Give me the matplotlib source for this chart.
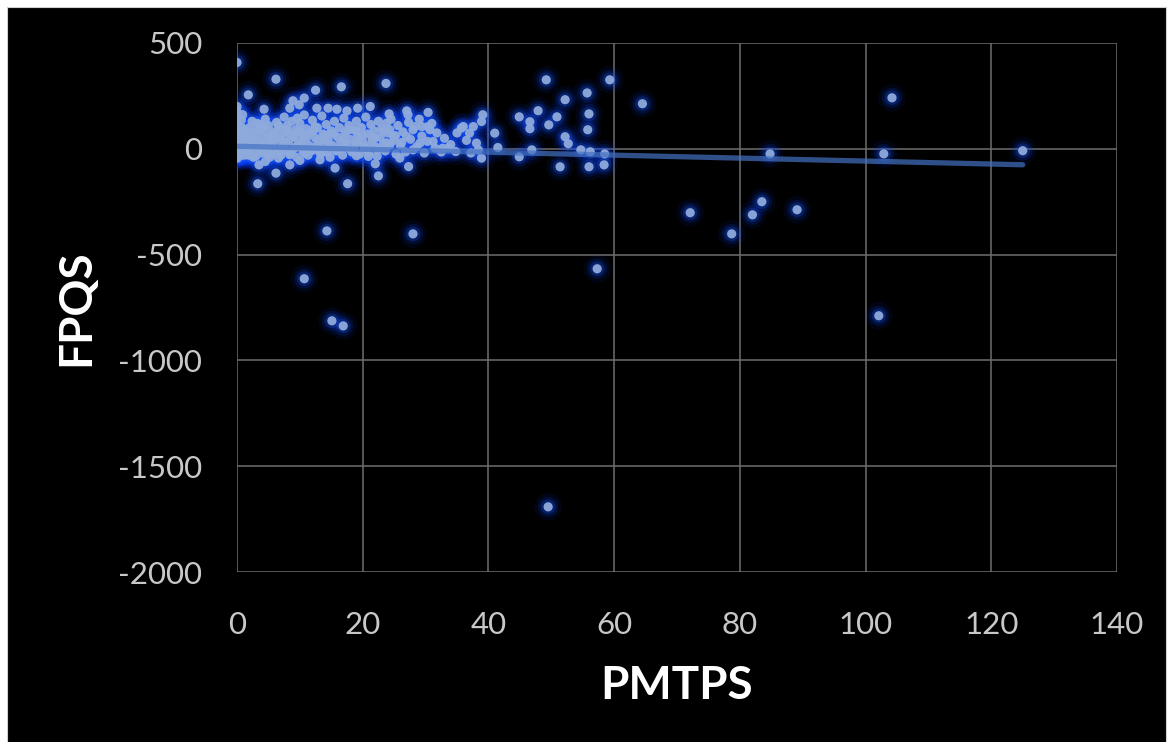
import numpy as np
import matplotlib
matplotlib.use("Agg")
import matplotlib.pyplot as plt
from matplotlib.patches import Rectangle

# ---------------- data ----------------
PMTPS = [
    # x ~ 0 column
    0, 0, 0, 0, 0, 0, 0, 0, 0, 0,
    0, 0, 0, 0, 0, 0, 0, 0.2, 0.2, 0.2,
    0.4, 0.4, 0.4, 0.7, 0.7, 0.7, 0.9, 0.9, 1.2, 1.2,
    0, 0, 0, 0, 0, 0, 0.1, 0.1, 0.1, 0.3,
    0.3, 0.3, 0.5, 0.5, 0.6, 0.6, 0.8, 1.0, 1.1, 1.4,
    # upper edge of cluster
    1.8, 6.2, 12.5, 16.6, 23.7, 8.9, 10.7, 9.9, 8.4, 4.3,
    12.7, 14.5, 15.9, 17.5, 19.2, 21.2, 24.2, 27.0, 27.2, 30.4,
    30.4, 30.7, 28.3, 29.4, 27.0, 23.8, 24.3, 24.9, 36.0, 35.7,
    37.0, 37.6, 39.1, 38.9, 41.0, 41.5, 38.1, 38.4, 38.9, 34.8,
    33.6, 28.0, 29.1, 31.2, 31.5, 32.7,
    # lower edge of cluster
    3.5, 6.2, 3.3, 8.4, 15.6, 17.6, 22.0, 22.5, 27.3, 25.9,
    20.9, 19.0, 13.2, 10.0, 6.6, 4.5,
    # mid range
    49.2, 59.3, 64.5, 55.7, 52.2, 47.9, 44.9, 46.6, 46.6, 49.6,
    50.9, 56.0, 55.8, 52.2, 52.7, 54.7, 56.2, 58.5, 46.9, 44.9,
    51.4, 56.0, 58.4,
    # outliers
    14.3, 28.0, 10.7, 15.1, 16.9, 49.5, 57.3, 102.1, 104.2, 84.8,
    102.9, 125.0, 72.1, 78.7, 82.0, 83.5, 89.1,
    # dense core
    1.5, 1.6, 2.0, 2.0, 2.2, 2.5, 2.8, 3.0, 3.0, 3.2,
    3.5, 3.7, 4.0, 4.0, 4.2, 4.5, 4.6, 5.0, 5.0, 5.2,
    5.5, 5.8, 6.0, 6.0, 6.3, 6.5, 6.8, 7.0, 7.0, 7.3,
    7.5, 7.7, 8.0, 8.0, 8.2, 8.5, 8.7, 9.0, 9.0, 9.3,
    9.5, 9.8, 10.0, 10.2, 10.5, 10.7, 11.0, 11.0, 11.3, 11.5,
    11.8, 12.0, 12.2, 12.5, 12.8, 13.0, 13.3, 13.5, 13.7, 14.0,
    14.2, 14.5, 14.8, 15.0, 15.2, 15.5, 15.8, 16.0, 16.3, 16.5,
    16.8, 17.0, 17.2, 17.5, 17.8, 18.0, 18.3, 18.5, 18.8, 19.0,
    19.2, 19.5, 19.8, 20.0, 20.3, 20.5, 20.8, 21.0, 21.3, 21.5,
    21.8, 22.0, 22.3, 22.5, 22.8, 23.0, 23.3, 23.6, 24.0, 24.5,
    25.0, 25.3, 25.6, 26.0, 26.4, 26.8, 27.3, 27.6, 28.0, 28.6,
    29.0, 29.4, 29.8, 30.3, 31.0, 31.8, 32.5, 33.0, 34.0, 35.0,
    36.5, 37.2,
    1.0, 1.0, 1.3, 1.8, 2.4, 2.6, 3.8, 4.8, 5.6, 6.6,
    7.2, 8.8, 9.6, 10.8, 12.6, 14.4, 16.2, 18.6, 20.6, 22.6,
    # extra core fill
    1.7, 2.3, 2.9, 3.4, 3.9, 4.4, 4.9, 5.4, 5.9, 6.4,
    6.9, 7.4, 7.9, 8.4, 8.9, 9.4, 9.9, 10.4, 10.9, 11.4,
    11.9, 12.4, 12.9, 13.4, 13.9, 14.6, 15.4, 16.1, 16.9, 17.6,
    18.2, 19.1, 19.9, 20.7, 21.6, 22.4, 23.2, 24.3, 25.2, 26.2,
    1.9, 2.7, 3.6, 4.7, 5.7, 6.7, 7.6, 8.6, 9.7, 10.6,
    11.6, 12.3, 13.6, 14.7, 15.7, 17.3, 18.9, 20.2, 21.9, 23.8,
]

FPQS = [
    408, 200, 176, 150, 120, 95, 75, 60, 45, 30,
    20, 10, 0, -8, -18, -28, -38, 40, 5, -25,
    85, -5, -35, 137, 50, -12, 161, 18, 70, -30,
    -45, -22, 3, 15, 38, 52, -15, 12, 28, 60,
    -18, 22, 0, 35, -28, 75, 100, -5, 30, 48,
    255, 329, 277, 293, 309, 227, 240, 208, 192, 187,
    192, 192, 187, 179, 192, 200, 165, 179, 161, 172,
    105, 90, 105, 105, 58, 121, 90, 58, 105, 98,
    74, 105, 161, 129, 74, 6, 27, -5, -44, -13,
    3, -5, 27, 35, 3, 3,
    -76, -115, -165, -76, -91, -165, -71, -128, -84, -44,
    -36, -33, -52, -55, -44, -60,
    326, 326, 213, 264, 232, 180, 151, 128, 95, 113,
    151, 165, 90, 57, 24, -5, -14, -24, -5, -38,
    -85, -85, -76,
    -388, -402, -614, -813, -837, -1692, -567, -789, 241, -24,
    -24, -9, -302, -402, -312, -250, -288,
    -10, 35, 60, 100, -25, 15, 80, 45, -35, 120,
    5, 65, -20, 95, 30, 140, -5, 55, 110, -40,
    20, 80, -15, 40, 125, 0, 95, 60, -30, 25,
    150, -5, 75, 110, 35, -20, 130, 5, 55, 90,
    -40, 30, 120, 70, -10, 160, 45, 95, -30, 15,
    75, 135, -5, 50, 100, 25, -25, 155, 70, 0,
    115, 40, -40, 85, 15, 130, -10, 55, 100, 30,
    -30, 145, 75, 5, 110, 45, -15, 90, 20, 130,
    60, -25, 100, 35, 5, 150, 70, -20, 115, 40,
    85, 10, -35, 130, 55, 95, 25, -10, 75, 140,
    40, -25, 110, 15, 80, -15, 125, 45, 90, 10,
    140, 60, -20, 35, 120, 75, -15, 50, 20, 75,
    40, -20,
    5, 45, 90, -20, 130, -40, -10, 70, -25, 110,
    10, -5, 145, -20, 10, -15, -5, 0, -5, 0,
    12, 50, -8, 88, 20, 105, -30, 38, 72, -12,
    45, 18, 92, -28, 62, 8, 85, 28, -22, 68,
    2, 105, 38, -18, 58, 22, 70, -2, 48, 88,
    -8, 30, 65, 12, 52, -5, 82, 18, 62, 30,
    -30, 25, 115, 8, 48, -18, 32, 70, 15, 62,
    -12, 90, 42, 68, -2, 22, 88, 10, 50, 28,
]

# linear trendline (intercept, slope)
TREND_INTERCEPT = 12.0
TREND_SLOPE = -0.70

X_TICKS = [0, 20, 40, 60, 80, 100, 120, 140]
Y_TICKS = [-2000, -1500, -1000, -500, 0, 500]

# ---------------- figure ----------------
plt.rcParams['font.family'] = ['Lato', 'DejaVu Sans']
plt.rcParams['axes.unicode_minus'] = False

W, H = 1171, 742
fig = plt.figure(figsize=(W / 100, H / 100), dpi=100)
fig.patch.set_facecolor('white')
# black chart area with thin white frame (open at the bottom)
fig.add_artist(Rectangle((7 / W, -0.01), (1166 - 7) / W, (H - 7) / H + 0.01,
                         transform=fig.transFigure, facecolor='black',
                         edgecolor='#D0D0D0', linewidth=0.8, zorder=0))

ax = fig.add_axes([237 / W, 1 - 572 / H, (1117 - 237) / W, (572 - 43) / H])
ax.set_facecolor('black')

x = np.array(PMTPS, dtype=float)
y = np.array(FPQS, dtype=float)

# glow layers
ax.scatter(x, y, s=400, color='#0038FF', alpha=0.08, edgecolors='none', zorder=2)
ax.scatter(x, y, s=210, color='#0A48FF', alpha=0.15, edgecolors='none', zorder=3)
ax.scatter(x, y, s=110, color='#1A58FF', alpha=0.26, edgecolors='none', zorder=4)
# core markers
ax.scatter(x, y, s=44, color='#8FAADC', alpha=0.95, edgecolors='none', zorder=5)

# trendline
tx = np.array([x.min(), x.max()])
ax.plot(tx, TREND_INTERCEPT + TREND_SLOPE * tx, color='#4472C4', alpha=0.7,
        linewidth=3.8, solid_capstyle='round', zorder=6)

ax.set_xlim(0, 140)
ax.set_ylim(-2000, 500)
ax.set_xticks(X_TICKS)
ax.set_yticks(Y_TICKS)
ax.grid(True, color='#6E6E6E', linewidth=1.1, zorder=1)
ax.set_axisbelow(True)
for sp in ax.spines.values():
    sp.set_visible(False)
ax.tick_params(axis='both', length=0, labelcolor='#C8C8C8', labelsize=22.5)
ax.tick_params(axis='y', pad=25)
ax.tick_params(axis='x', pad=28)

ax.set_xlabel('PMTPS', fontsize=33, fontweight='bold', color='white')
ax.set_ylabel('FPQS', fontsize=33, fontweight='bold', color='white')
ax.xaxis.set_label_coords(0.5, -0.2155)
ax.xaxis.label.set_va('center')
ax.yaxis.set_label_coords(-0.183, 0.5)
ax.yaxis.label.set_va('center')

fig.savefig('out.png', dpi=100, facecolor=fig.get_facecolor())
